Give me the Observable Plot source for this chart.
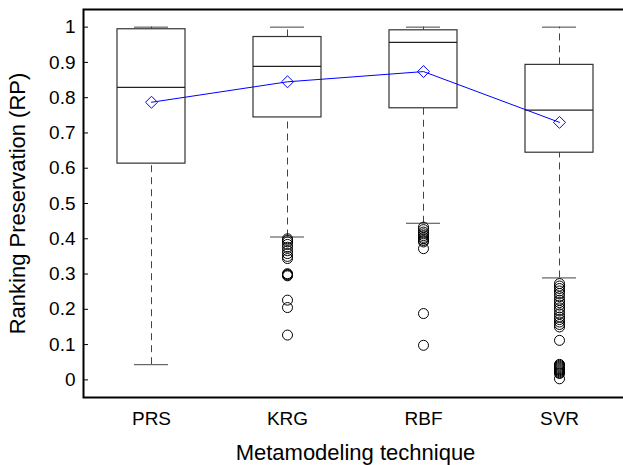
<!DOCTYPE html>
<html><head><meta charset="utf-8">
<script src="https://cdn.jsdelivr.net/npm/d3@7"></script>
<script src="https://cdn.jsdelivr.net/npm/@observablehq/plot@0.6"></script>
<style>
html,body{margin:0;padding:0;background:#fff;overflow:hidden;width:623px;height:465px}
#chart{width:623px;height:465px;overflow:hidden}
#chart svg{display:block;max-width:none !important;width:632px !important;height:465px !important}
</style></head><body><div id="chart"></div>
<script>
const categories = ["PRS", "KRG", "RBF", "SVR"];
const q1 = [0.613, 0.744, 0.770, 0.644];
const median = [0.829, 0.889, 0.957, 0.765];
const q3 = [0.994, 0.972, 0.991, 0.893];
const whiskerLow = [0.043, 0.405, 0.444, 0.289];
const whiskerHigh = [1.0, 1.0, 1.0, 1.0];
const means = [0.787, 0.845, 0.874, 0.730];
const outliersPRS = [];
const outliersKRG = [0.400, 0.396, 0.391, 0.384, 0.376, 0.366, 0.358, 0.350, 0.344, 0.301, 0.299, 0.297, 0.295, 0.226, 0.205, 0.127];
const outliersRBF = [0.433, 0.426, 0.419, 0.414, 0.409, 0.404, 0.400, 0.395, 0.391, 0.372, 0.188, 0.098];
const outliersSVR = [0.273, 0.266, 0.259, 0.252, 0.245, 0.236, 0.226, 0.219, 0.212, 0.204, 0.197, 0.187, 0.178, 0.171, 0.164, 0.157, 0.150, 0.112,
  0.044, 0.041, 0.038, 0.035, 0.032, 0.029, 0.026, 0.023, 0.020, 0.018, 0.003];
const yTicks = [0, 0.1, 0.2, 0.3, 0.4, 0.5, 0.6, 0.7, 0.8, 0.9, 1];
const yTickLabels = ["0", "0.1", "0.2", "0.3", "0.4", "0.5", "0.6", "0.7", "0.8", "0.9", "1"];
const xTitle = "Metamodeling technique";
const yTitle = "Ranking Preservation (RP)";

const boxes = categories.map((c, i) => ({cat: c, q1: q1[i], median: median[i], q3: q3[i], lo: whiskerLow[i], hi: whiskerHigh[i], mean: means[i]}));
const outlierLists = [outliersPRS, outliersKRG, outliersRBF, outliersSVR];
const outlierRows = categories.flatMap((c, i) => outlierLists[i].map(v => ({cat: c, value: v})));

const font = "'Liberation Sans', Arial, Helvetica, sans-serif";
const plot = Plot.plot({
  width: 632, height: 465,
  marginLeft: 83, marginRight: 5, marginTop: 9, marginBottom: 68,
  style: {fontFamily: font, fontSize: "19px", color: "#000", background: "#fff"},
  x: {type: "band", domain: categories, padding: 0},
  y: {domain: [-0.05, 1.05]},
  marks: [
    Plot.ruleX(boxes, {x: "cat", y1: "q3", y2: "hi", stroke: "#444", strokeDasharray: "7,5"}),
    Plot.ruleX(boxes, {x: "cat", y1: "lo", y2: "q1", stroke: "#444", strokeDasharray: "7,5"}),
    Plot.tickY(boxes, {x: "cat", y: "hi", insetLeft: 51, insetRight: 51, stroke: "#444"}),
    Plot.tickY(boxes, {x: "cat", y: "lo", insetLeft: 51, insetRight: 51, stroke: "#444"}),
    Plot.barY(boxes, {x: "cat", y1: "q1", y2: "q3", insetLeft: 34, insetRight: 34, fill: "white", stroke: "#333", strokeWidth: 1.2}),
    Plot.tickY(boxes, {x: "cat", y: "median", insetLeft: 34, insetRight: 34, stroke: "#222", strokeWidth: 1.2}),
    Plot.dot(outlierRows, {x: "cat", y: "value", r: 5, stroke: "#000", fill: "none", strokeWidth: 1}),
    Plot.line(boxes, {x: "cat", y: "mean", stroke: "#0000ff", strokeWidth: 1}),
    Plot.dot(boxes, {x: "cat", y: "mean", symbol: "diamond2", r: 5.4, stroke: "#0000ff", fill: "none", strokeWidth: 1}),
    Plot.axisY(yTicks, {anchor: "left", tickSize: -5, tickPadding: 13, fontSize: 19, tickFormat: d => yTickLabels[yTicks.indexOf(d)], label: null}),
    Plot.axisY(yTicks, {anchor: "right", tickSize: -5, tickFormat: () => "", label: null}),
    Plot.axisY([], {anchor: "left", label: yTitle, labelAnchor: "center", labelOffset: 74, labelArrow: "none", fontSize: 22}),
    Plot.axisX(categories, {anchor: "bottom", tickSize: 0, tickPadding: 14, fontSize: 19, label: null}),
    Plot.axisX([], {anchor: "bottom", label: xTitle, labelAnchor: "center", labelOffset: 62, labelArrow: "none", fontSize: 22}),
    Plot.frame({stroke: "#000", strokeWidth: 2})
  ]
});
document.getElementById("chart").appendChild(plot);
</script></body></html>
